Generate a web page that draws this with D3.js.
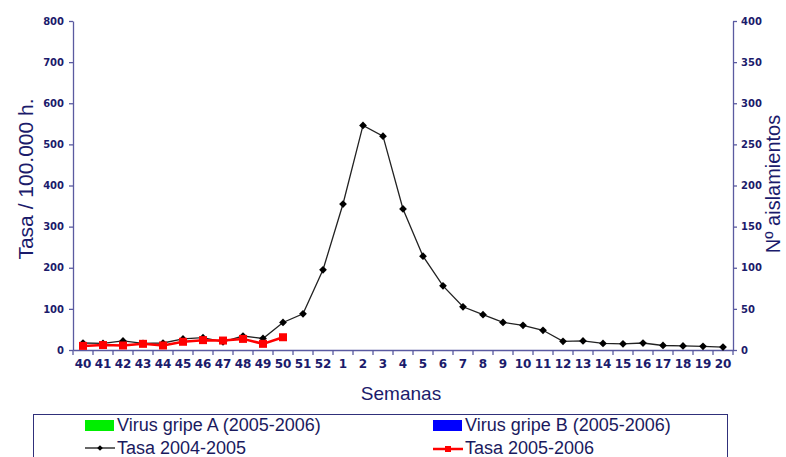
<!DOCTYPE html>
<html>
<head>
<meta charset="utf-8">
<script src="https://cdn.jsdelivr.net/npm/d3@7/dist/d3.min.js"></script>
<style>
html,body{margin:0;padding:0;background:#fff;}
svg{display:block;}
</style>
</head>
<body>
<svg id="chart" width="786" height="457"></svg>
<script>
const weeks = ["40","41","42","43","44","45","46","47","48","49","50","51","52","1","2","3","4","5","6","7","8","9","10","11","12","13","14","15","16","17","18","19","20"];
const tasa0405 = [17,16,22,16,17,27,30,20,34,28,67,88,195,355,546,520,343,228,156,105,86,67,60,48,21,22,16,15,17,11,10,9,7];
const tasa0506 = [10,12,11,15,11,20,24,23,27,15,31];
const leftTicks = [0,100,200,300,400,500,600,700,800];
const rightTicks = [0,50,100,150,200,250,300,350,400];
const legendItems = ["Virus gripe A (2005-2006)","Virus gripe B (2005-2006)","Tasa 2004-2005","Tasa 2005-2006"];

const svg = d3.select("#chart");
const navy = "#1b1b6b";
const axisCol = "#5a5aa0";
const tickFont = "'DejaVu Sans', Verdana, sans-serif";
const textFont = "'Liberation Sans', Arial, sans-serif";

const x = d3.scaleBand().domain(weeks).range([73, 733]).padding(0);
const yL = d3.scaleLinear().domain([0, 800]).range([350, 21]);
const yR = d3.scaleLinear().domain([0, 400]).range([350, 21]);

// Left axis
const gL = svg.append("g").attr("transform", "translate(73,0)")
  .call(d3.axisLeft(yL).tickValues(leftTicks).tickSize(4).tickPadding(5).tickSizeOuter(0));
// Right axis
const gR = svg.append("g").attr("transform", "translate(733,0)")
  .call(d3.axisRight(yR).tickValues(rightTicks).tickSize(4).tickPadding(4).tickSizeOuter(0));
[gL, gR].forEach(g => {
  g.selectAll("path, line").attr("stroke", axisCol).attr("stroke-width", 1.3);
  g.selectAll("text").attr("fill", navy).attr("font-family", tickFont)
    .attr("font-weight", "bold").attr("font-size", "10px");
});

// Bottom axis (labels only, ticks at band boundaries)
const gB = svg.append("g").attr("transform", "translate(0,350)")
  .call(d3.axisBottom(x).tickSize(0).tickPadding(9).tickSizeOuter(0));
gB.select("path.domain").attr("stroke", axisCol).attr("stroke-width", 1.3);
gB.selectAll("text").attr("fill", navy).attr("font-family", tickFont)
  .attr("font-weight", "bold").attr("font-size", "12px");
const bounds = weeks.map(w => x(w)).concat([x(weeks[weeks.length-1]) + x.bandwidth()]);
gB.selectAll("line.bt").data(bounds).enter().append("line")
  .attr("class", "bt")
  .attr("x1", d => d).attr("x2", d => d).attr("y1", 0).attr("y2", 5)
  .attr("stroke", axisCol).attr("stroke-width", 1.3);

// Axis titles
svg.append("text").attr("transform", "translate(33,179) rotate(-90)")
  .attr("text-anchor", "middle").attr("font-family", textFont).attr("font-size", "21px")
  .attr("fill", navy).text("Tasa / 100.000 h.");
svg.append("text").attr("transform", "translate(780,184) rotate(-90)")
  .attr("text-anchor", "middle").attr("font-family", textFont).attr("font-size", "20px")
  .attr("fill", navy).text("Nº aislamientos");
svg.append("text").attr("x", 401).attr("y", 400)
  .attr("text-anchor", "middle").attr("font-family", textFont).attr("font-size", "19px")
  .attr("fill", navy).text("Semanas");

// Lines
const cx = w => x(w) + x.bandwidth() / 2;
const line = d3.line().x(d => cx(d.w)).y(d => yL(d.v));
const d1 = tasa0405.map((v, i) => ({w: weeks[i], v}));
const d2 = tasa0506.map((v, i) => ({w: weeks[i], v}));

svg.append("path").datum(d1).attr("d", line).attr("fill", "none")
  .attr("stroke", "#222").attr("stroke-width", 1.3);
const sq = d3.symbol().type(d3.symbolSquare).size(30);
svg.selectAll("path.dm").data(d1).enter().append("path").attr("class", "dm")
  .attr("d", sq).attr("transform", d => `translate(${cx(d.w)},${yL(d.v)}) rotate(45)`)
  .attr("fill", "#000");

svg.append("path").datum(d2).attr("d", line).attr("fill", "none")
  .attr("stroke", "#ff0000").attr("stroke-width", 2.5);
svg.selectAll("rect.sq").data(d2).enter().append("rect").attr("class", "sq")
  .attr("x", d => cx(d.w) - 4).attr("y", d => yL(d.v) - 4)
  .attr("width", 8).attr("height", 8).attr("fill", "#ff0000");

// Legend
const lg = svg.append("g");
lg.append("rect").attr("x", 33.5).attr("y", 414.5).attr("width", 694).attr("height", 60)
  .attr("fill", "#fff").attr("stroke", "#30307a").attr("stroke-width", 1);
const cols = [85, 433];
lg.append("rect").attr("x", cols[0]).attr("y", 420).attr("width", 29).attr("height", 11).attr("fill", "#00ee00");
lg.append("rect").attr("x", cols[1]).attr("y", 420).attr("width", 29).attr("height", 11).attr("fill", "#0000ff");
lg.append("line").attr("x1", cols[0]).attr("x2", cols[0] + 30).attr("y1", 448).attr("y2", 448)
  .attr("stroke", "#000").attr("stroke-width", 1.2);
lg.append("path").attr("d", d3.symbol().type(d3.symbolSquare).size(16))
  .attr("transform", `translate(${cols[0] + 15},448) rotate(45)`).attr("fill", "#000");
lg.append("line").attr("x1", cols[1]).attr("x2", cols[1] + 30).attr("y1", 449).attr("y2", 449)
  .attr("stroke", "#ff0000").attr("stroke-width", 2.5);
lg.append("rect").attr("x", cols[1] + 12).attr("y", 446).attr("width", 6).attr("height", 6).attr("fill", "#ff0000");

const lpos = [[117, 431], [465, 431], [117, 454], [465, 454]];
legendItems.forEach((t, i) => {
  lg.append("text").attr("x", lpos[i][0]).attr("y", lpos[i][1])
    .attr("font-family", textFont).attr("font-size", "18px").attr("fill", "#1a1a5e").text(t);
});
</script>
</body>
</html>
